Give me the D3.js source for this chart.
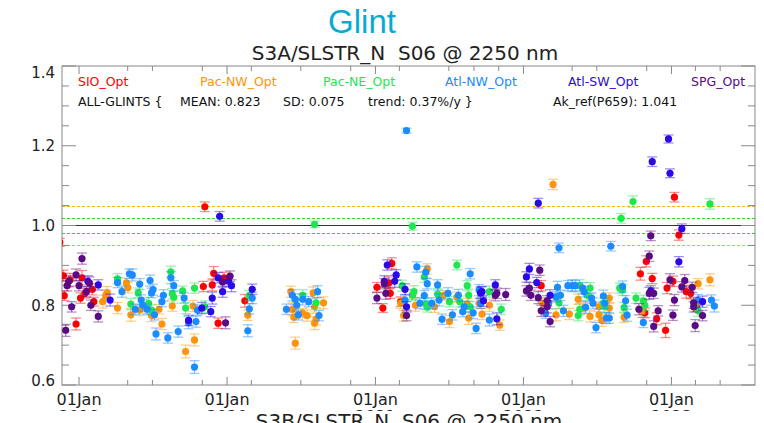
<!DOCTYPE html>
<html>
<head>
<meta charset="utf-8">
<script src="https://cdn.jsdelivr.net/npm/d3@7"></script>
<style>
  body { margin: 0; background: #fff; }
  text { font-family: "DejaVu Sans", sans-serif; white-space: pre; }
</style>
</head>
<body>
<svg id="chart" width="764" height="423"></svg>
<script>
// series: [decimal year, ratio, error]
const sioOpt = [
  [2018.87,0.958,0.010],[2018.895,0.874,0.014],[2018.90,0.824,0.012],[2018.94,0.864,0.016],
  [2018.98,0.753,0.015],[2019.01,0.818,0.013],[2019.02,0.869,0.018],[2019.04,0.830,0.012],
  [2019.09,0.840,0.014],[2019.10,0.809,0.011],[2019.84,0.847,0.013],[2019.85,1.047,0.012],
  [2019.90,0.851,0.015],[2019.91,0.880,0.017],[2019.94,0.755,0.013],[2019.98,0.869,0.014],
  [2020.12,0.811,0.016],[2021.01,0.845,0.012],[2021.05,0.793,0.011],[2021.09,0.856,0.015],
  [2021.10,0.830,0.013],[2021.11,0.905,0.014],[2021.17,0.809,0.012],[2022.12,0.849,0.013],
  [2022.79,0.879,0.016],[2022.82,0.781,0.012],[2022.83,0.910,0.014],[2022.87,0.867,0.013],
  [2022.90,0.766,0.015],[2022.96,0.737,0.018],[2022.97,0.843,0.014],[2023.01,0.860,0.013],
  [2023.02,1.071,0.012],[2023.05,0.976,0.013],[2023.10,0.834,0.016],[2023.13,0.830,0.014],
  [2023.17,0.796,0.012]
];
const pacNwOpt = [
  [2019.16,0.809,0.016],[2019.18,0.824,0.014],[2019.19,0.832,0.015],[2019.26,0.793,0.014],
  [2019.32,0.856,0.012],[2019.33,0.844,0.013],[2019.35,0.776,0.016],[2019.41,0.788,0.014],
  [2019.46,0.793,0.013],[2019.49,0.774,0.015],[2019.54,0.790,0.012],[2019.56,0.753,0.014],
  [2019.63,0.798,0.013],[2019.72,0.684,0.016],[2019.77,0.798,0.014],[2019.78,0.713,0.015],
  [2020.14,0.775,0.013],[2020.43,0.834,0.014],[2020.44,0.790,0.016],[2020.45,0.770,0.013],
  [2020.46,0.705,0.015],[2020.51,0.780,0.012],[2020.54,0.774,0.014],[2020.58,0.831,0.015],
  [2020.59,0.796,0.013],[2020.59,0.755,0.016],[2020.60,0.765,0.014],[2020.65,0.806,0.015],
  [2021.17,0.805,0.013],[2021.19,0.774,0.014],[2021.25,0.827,0.012],[2021.27,0.800,0.015],
  [2021.35,0.891,0.013],[2021.40,0.796,0.014],[2021.46,0.825,0.012],[2021.50,0.759,0.015],
  [2021.55,0.820,0.013],[2021.62,0.803,0.014],[2021.63,0.768,0.016],[2021.70,0.805,0.013],
  [2021.72,0.778,0.014],[2021.77,0.800,0.015],[2021.84,0.750,0.013],[2022.13,0.805,0.014],
  [2022.20,1.103,0.013],[2022.22,0.776,0.015],[2022.31,0.778,0.014],[2022.37,0.815,0.013],
  [2022.41,0.793,0.015],[2022.45,0.772,0.014],[2022.51,0.796,0.012],[2022.51,0.776,0.014],
  [2022.53,0.762,0.015],[2022.58,0.818,0.013],[2022.58,0.793,0.014],[2022.68,0.770,0.013],
  [2022.80,0.784,0.015],[2023.16,0.800,0.014],[2023.18,0.854,0.013],[2023.26,0.864,0.015]
];
const pacNeOpt = [
  [2019.26,0.866,0.013],[2019.35,0.803,0.014],[2019.40,0.831,0.012],[2019.47,0.805,0.015],
  [2019.49,0.788,0.013],[2019.62,0.884,0.014],[2019.63,0.829,0.013],[2019.64,0.820,0.015],
  [2019.70,0.836,0.012],[2019.72,0.793,0.014],[2019.78,0.843,0.013],[2019.85,0.796,0.015],
  [2020.15,0.824,0.013],[2020.51,0.825,0.014],[2020.59,1.003,0.008],[2020.60,0.806,0.013],
  [2021.18,0.849,0.014],[2021.25,0.998,0.010],[2021.25,0.825,0.013],[2021.26,0.834,0.015],
  [2021.33,0.871,0.013],[2021.34,0.803,0.014],[2021.35,0.795,0.012],[2021.42,0.828,0.014],
  [2021.50,0.809,0.013],[2021.55,0.901,0.012],[2021.57,0.809,0.014],[2021.62,0.849,0.013],
  [2021.63,0.825,0.015],[2021.64,0.796,0.013],[2021.77,0.834,0.014],[2021.85,0.790,0.013],
  [2022.24,0.806,0.014],[2022.37,0.774,0.013],[2022.38,0.849,0.015],[2022.38,0.790,0.014],
  [2022.43,0.825,0.013],[2022.45,0.843,0.014],[2022.54,0.805,0.013],[2022.55,0.796,0.015],
  [2022.65,0.843,0.013],[2022.66,1.018,0.012],[2022.67,0.839,0.014],[2022.68,0.794,0.013],
  [2022.74,1.060,0.014],[2022.76,0.818,0.013],[2022.81,0.811,0.014],[2022.82,0.800,0.013],
  [2023.18,0.786,0.014],[2023.26,1.054,0.013]
];
const atlNwOpt = [
  [2019.26,0.857,0.013],[2019.29,0.834,0.014],[2019.34,0.879,0.012],[2019.36,0.876,0.015],
  [2019.38,0.790,0.013],[2019.41,0.853,0.014],[2019.42,0.813,0.013],[2019.43,0.800,0.015],
  [2019.46,0.790,0.013],[2019.48,0.862,0.014],[2019.49,0.831,0.012],[2019.50,0.839,0.014],
  [2019.51,0.776,0.013],[2019.52,0.728,0.015],[2019.56,0.809,0.013],[2019.57,0.825,0.014],
  [2019.60,0.718,0.013],[2019.62,0.869,0.015],[2019.64,0.849,0.013],[2019.67,0.734,0.014],
  [2019.71,0.818,0.013],[2019.74,0.756,0.015],[2019.78,0.645,0.016],[2019.79,0.759,0.014],
  [2019.80,0.788,0.013],[2020.14,0.736,0.015],[2020.15,0.791,0.013],[2020.17,0.818,0.014],
  [2020.40,0.790,0.013],[2020.44,0.825,0.014],[2020.46,0.815,0.013],[2020.47,0.800,0.015],
  [2020.48,0.776,0.013],[2020.51,0.815,0.014],[2020.55,0.809,0.013],[2020.61,0.834,0.015],
  [2020.62,0.774,0.013],[2021.20,0.813,0.014],[2021.21,1.238,0.006],[2021.28,0.896,0.013],
  [2021.30,0.805,0.014],[2021.33,0.824,0.013],[2021.34,0.883,0.015],[2021.35,0.854,0.013],
  [2021.38,0.805,0.014],[2021.42,0.851,0.013],[2021.43,0.813,0.015],[2021.45,0.765,0.013],
  [2021.49,0.830,0.014],[2021.52,0.776,0.013],[2021.56,0.825,0.015],[2021.59,0.784,0.013],
  [2021.60,0.796,0.014],[2021.64,0.879,0.013],[2021.66,0.781,0.015],[2021.68,0.742,0.013],
  [2021.70,0.838,0.014],[2021.71,0.805,0.013],[2021.77,0.763,0.015],[2022.15,0.780,0.013],
  [2022.17,0.805,0.014],[2022.22,0.821,0.013],[2022.23,0.845,0.015],[2022.24,0.944,0.012],
  [2022.25,0.825,0.013],[2022.27,0.786,0.014],[2022.30,0.849,0.013],[2022.33,0.849,0.015],
  [2022.35,0.849,0.013],[2022.40,0.843,0.014],[2022.41,0.834,0.013],[2022.42,0.795,0.015],
  [2022.46,0.818,0.013],[2022.47,0.805,0.014],[2022.49,0.744,0.013],[2022.54,0.823,0.015],
  [2022.55,0.805,0.013],[2022.56,0.768,0.014],[2022.58,0.768,0.013],[2022.59,0.948,0.012],
  [2022.67,0.847,0.014],[2022.69,0.811,0.013],[2022.70,0.775,0.015],[2022.81,0.757,0.013],
  [2023.18,0.813,0.014],[2023.27,0.813,0.013],[2023.29,0.798,0.015]
];
const atlSwOpt = [
  [2019.06,0.860,0.014],[2019.13,0.851,0.013],[2019.21,0.813,0.015],[2019.74,0.762,0.013],
  [2019.83,0.793,0.014],[2019.89,0.784,0.013],[2019.90,0.818,0.015],[2019.94,0.869,0.013],
  [2019.95,1.023,0.012],[2019.97,0.834,0.014],[2020.01,0.860,0.013],[2020.03,0.849,0.015],
  [2020.17,0.840,0.013],[2021.06,0.860,0.014],[2021.08,0.901,0.013],[2021.13,0.860,0.015],
  [2021.14,0.876,0.013],[2021.20,0.840,0.014],[2021.21,0.796,0.013],[2021.71,0.831,0.015],
  [2021.72,0.834,0.013],[2021.73,0.811,0.014],[2021.81,0.851,0.013],[2021.82,0.766,0.015],
  [2022.02,0.871,0.013],[2022.04,0.891,0.014],[2022.09,0.857,0.013],[2022.10,1.056,0.012],
  [2022.18,0.825,0.014],[2022.86,0.836,0.013],[2022.87,1.160,0.012],[2022.98,1.217,0.010],
  [2022.99,1.131,0.011],[2023.05,0.909,0.013],[2023.07,0.992,0.012],[2023.21,0.809,0.014]
];
const spgOpt = [
  [2018.91,0.737,0.015],[2018.92,0.849,0.013],[2018.93,0.860,0.014],[2018.95,0.796,0.013],
  [2018.98,0.876,0.015],[2019.00,0.849,0.013],[2019.02,0.917,0.014],[2019.05,0.834,0.013],
  [2019.07,0.856,0.015],[2019.08,0.800,0.013],[2019.13,0.772,0.014],[2019.97,0.858,0.013],
  [2019.99,0.756,0.015],[2020.02,0.873,0.013],[2021.01,0.818,0.014],[2021.06,0.854,0.013],
  [2021.07,0.830,0.015],[2021.21,0.774,0.013],[2021.81,0.825,0.014],[2021.82,0.830,0.013],
  [2021.88,0.827,0.015],[2022.02,0.836,0.013],[2022.04,0.843,0.014],[2022.05,0.825,0.013],
  [2022.10,0.819,0.015],[2022.11,0.888,0.013],[2022.12,0.786,0.014],[2022.16,0.811,0.013],
  [2022.16,0.796,0.015],[2022.18,0.759,0.013],[2022.78,0.790,0.014],[2022.85,0.923,0.013],
  [2022.85,0.830,0.015],[2022.86,0.974,0.012],[2022.88,0.830,0.013],[2022.88,0.747,0.014],
  [2022.91,0.786,0.013],[2022.99,0.864,0.015],[2023.01,0.775,0.013],[2023.02,0.813,0.014],
  [2023.07,0.846,0.013],[2023.09,0.862,0.015],[2023.14,0.845,0.013],[2023.15,0.806,0.014],
  [2023.15,0.796,0.013],[2023.16,0.749,0.015],[2023.21,0.774,0.013]
];

const seriesNames = ["SIO_Opt", "Pac-NW_Opt", "Pac-NE_Opt", "Atl-NW_Opt", "Atl-SW_Opt", "SPG_Opt"];
const seriesColors = ["#ff0000", "#ff9408", "#1ee650", "#1a8cff", "#2a08ea", "#5a0a84"];
const seriesData = [sioOpt, pacNwOpt, pacNeOpt, atlNwOpt, atlSwOpt, spgOpt];

const statsLabels = ["ALL-GLINTS {", "MEAN: 0.823", "SD: 0.075", "trend: 0.37%/y }", "Ak_ref(P659): 1.041"];
const yTickLabels = [0.6, 0.8, 1.0, 1.2, 1.4];
const tickDates = ["2019-01-01","2019-05-01","2019-07-01","2019-11-01","2020-01-01","2020-03-01",
  "2020-07-01","2020-11-01","2021-01-01","2021-03-01","2021-07-01","2021-09-01","2021-11-01",
  "2022-01-01","2022-05-01","2022-07-01","2022-11-01","2023-01-01","2023-03-01","2023-05-01"];
const bandLines = [{v: 1.05, c: "#ffb400"}, {v: 1.02, c: "#22e022"}, {v: 0.98, c: "#22e022"}, {v: 0.95, c: "#ffb400"}];

function toDate(yr) {
  const Y = Math.floor(yr);
  const a = Date.UTC(Y, 0, 1), b = Date.UTC(Y + 1, 0, 1);
  return new Date(a + (yr - Y) * (b - a));
}

const svg = d3.select('#chart');
const margin = {top: 66, right: 9, bottom: 38, left: 62};
const width = 764 - margin.left - margin.right,
  height = 423 - margin.top - margin.bottom;

const x = d3.scaleUtc()
  .domain([new Date(Date.UTC(2018, 10, 20)), new Date(Date.UTC(2023, 6, 26))])
  .range([0, width]);
const y = d3.scaleLinear().domain([0.6, 1.4]).range([height, 0]);

// titles
svg.append('text').attr('x', 362).attr('y', 33).attr('text-anchor', 'middle')
  .style('font-family', '"Liberation Sans", Arial, sans-serif')
  .style('font-size', '33px').attr('fill', '#08aad2').text('Glint');
svg.append('text').attr('x', 405).attr('y', 60).attr('text-anchor', 'middle')
  .style('font-size', '20px').attr('fill', '#222')
  .text('S3A/SLSTR_N  S06 @ 2250 nm');

const g = svg.append('g').attr('transform', 'translate(' + margin.left + ',' + margin.top + ')');

g.append('defs').append('clipPath').attr('id', 'plot-clip')
  .append('rect').attr('width', width).attr('height', height);

// legend row
const legendX = [16, 138, 261, 383, 506, 629];
g.selectAll('.legend')
  .data(seriesNames)
  .enter().append('text')
  .attr('x', (d, i) => legendX[i])
  .attr('y', 19.5)
  .style('font-size', '12.5px')
  .attr('fill', (d, i) => seriesColors[i])
  .text(d => d);

const statsX = [16, 118, 221, 306, 491];
g.selectAll('.stats')
  .data(statsLabels)
  .enter().append('text')
  .attr('x', (d, i) => statsX[i])
  .attr('y', 40)
  .style('font-size', '12.5px')
  .attr('fill', '#111')
  .text(d => d);

// reference lines
g.append('line').attr('x1', 0).attr('x2', width)
  .attr('y1', Math.round(y(1.0)) + 0.5).attr('y2', Math.round(y(1.0)) + 0.5)
  .attr('stroke', '#333').attr('stroke-width', 1);
g.selectAll('.band')
  .data(bandLines)
  .enter().append('line')
  .attr('x1', 0).attr('x2', width)
  .attr('y1', d => Math.round(y(d.v)) + 0.5).attr('y2', d => Math.round(y(d.v)) + 0.5)
  .attr('stroke', d => d.c).attr('stroke-width', 1.2)
  .attr('shape-rendering', 'crispEdges')
  .attr('stroke-dasharray', '3,2');

// axes
const yTicks = d3.range(0, 17).map(i => 0.6 + i * 0.05);
const isMajorY = v => yTickLabels.some(t => Math.abs(t - v) < 1e-6);

g.selectAll('.ytick-l')
  .data(yTicks)
  .enter().append('line')
  .attr('x1', 0).attr('x2', d => isMajorY(d) ? 14 : 7)
  .attr('y1', d => y(d)).attr('y2', d => y(d))
  .attr('stroke', '#888');
g.selectAll('.ytick-r')
  .data(yTicks)
  .enter().append('line')
  .attr('x1', width).attr('x2', d => width - (isMajorY(d) ? 14 : 7))
  .attr('y1', d => y(d)).attr('y2', d => y(d))
  .attr('stroke', '#888');

g.selectAll('.ylabel')
  .data(yTickLabels)
  .enter().append('text')
  .attr('x', -7)
  .attr('y', d => y(d) + 5.5 + (d === 1.4 ? 6 : 0) - (d === 0.6 ? 5 : 0))
  .attr('text-anchor', 'end')
  .style('font-size', '15px')
  .attr('fill', '#222')
  .text(d => d.toFixed(1));

const tDates = tickDates.map(s => new Date(s + 'T00:00:00Z'));
const isJan = d => d.getUTCMonth() === 0;

g.append('g')
  .attr('transform', 'translate(0,' + height + ')')
  .call(d3.axisBottom(x).tickValues(tDates).tickSize(0).tickFormat(''))
  .call(a => a.select('.domain').remove());

g.selectAll('.xtick-b')
  .data(tDates)
  .enter().append('line')
  .attr('x1', d => x(d)).attr('x2', d => x(d))
  .attr('y1', height).attr('y2', d => height - (isJan(d) ? 8 : 5))
  .attr('stroke', '#888');
g.selectAll('.xtick-t')
  .data(tDates)
  .enter().append('line')
  .attr('x1', d => x(d)).attr('x2', d => x(d))
  .attr('y1', 0).attr('y2', d => isJan(d) ? 8 : 5)
  .attr('stroke', '#888');

const janDates = tDates.filter(isJan);
g.selectAll('.xlabel')
  .data(janDates)
  .enter().append('text')
  .attr('x', d => x(d))
  .attr('y', height + 20)
  .attr('text-anchor', 'middle')
  .style('font-size', '16px')
  .attr('fill', '#222')
  .text('01Jan');
g.selectAll('.ylab2')
  .data(janDates)
  .enter().append('text')
  .attr('x', d => x(d))
  .attr('y', height + 37)
  .attr('text-anchor', 'middle')
  .style('font-size', '16px')
  .attr('fill', '#222')
  .text(d => d.getUTCFullYear());

g.append('rect').attr('width', width).attr('height', height)
  .attr('fill', 'none').attr('stroke', '#888').attr('stroke-width', 1);

// points with error bars
const plot = g.append('g').attr('clip-path', 'url(#plot-clip)');
seriesData.forEach(function (data, i) {
  const color = seriesColors[i];
  const s = plot.append('g');
  const eb = s.selectAll('.eb').data(data).enter().append('g')
    .attr('stroke', color).attr('stroke-opacity', 0.45).attr('stroke-width', 1.3);
  eb.append('line')
    .attr('x1', d => x(toDate(d[0]))).attr('x2', d => x(toDate(d[0])))
    .attr('y1', d => y(d[1] - d[2])).attr('y2', d => y(d[1] + d[2]));
  eb.append('line')
    .attr('x1', d => x(toDate(d[0])) - 5).attr('x2', d => x(toDate(d[0])) + 5)
    .attr('y1', d => y(d[1] - d[2])).attr('y2', d => y(d[1] - d[2]));
  eb.append('line')
    .attr('x1', d => x(toDate(d[0])) - 5).attr('x2', d => x(toDate(d[0])) + 5)
    .attr('y1', d => y(d[1] + d[2])).attr('y2', d => y(d[1] + d[2]));
  s.selectAll('.pt').data(data).enter().append('circle')
    .attr('cx', d => x(toDate(d[0])))
    .attr('cy', d => y(d[1]))
    .attr('r', 3.6)
    .attr('fill', color);
});

// next panel header peeking in at the bottom
svg.append('rect').attr('x', 0).attr('y', 411).attr('width', 764).attr('height', 12).attr('fill', '#fff');
svg.append('text').attr('x', 409).attr('y', 428).attr('text-anchor', 'middle')
  .style('font-size', '20px').attr('fill', '#222')
  .text('S3B/SLSTR_N  S06 @ 2250 nm');
</script>
</body>
</html>
